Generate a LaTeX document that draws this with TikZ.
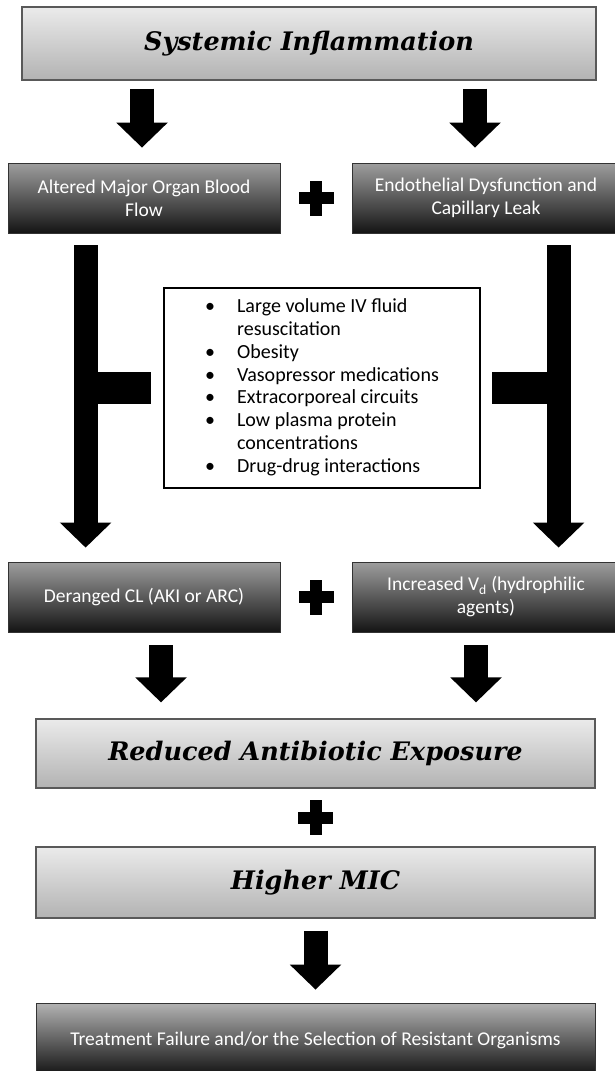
\documentclass[tikz,border=0pt]{standalone}
\usepackage{fontspec}
\setmainfont{Carlito}
\newfontfamily\headfont{DejaVu Serif}
\usetikzlibrary{arrows.meta,calc,positioning}
\newcommand\plusmark[1]{\fill #1 ++(-17.5,-6) rectangle ++(35,12);\fill #1 ++(-6,-17.5) rectangle ++(12,35);}

\begin{document}
\begin{tikzpicture}[x=1pt,y=-1pt,
 lightbox/.style={draw=black!65,line width=1.2pt,top color=black!8,bottom color=black!30,inner sep=0pt,font=\headfont\bfseries\itshape\fontsize{25.5}{30}\selectfont},
 darkbox/.style={draw=black!80,line width=.8pt,top color=black!38,bottom color=black!92,text=white,align=center,inner sep=0pt,font=\fontsize{19.5}{23}\selectfont},
 listbox/.style={draw=black,line width=1.6pt,fill=white,inner sep=0pt,font=\fontsize{20}{22.8}\selectfont},
 bigarrow/.style={line width=24pt,-{Triangle[length=25pt,width=50pt]}},
 tbar/.style={line width=32pt}]
\fill[white] (0,0) rectangle (614,1071);\useasboundingbox (0,0) rectangle (614,1071);
% boxes
\node[lightbox,minimum width=574pt,minimum height=73pt] (sys) at (309,43.5) {Systemic Inflammation};
\node[darkbox,minimum width=272pt,minimum height=70pt] (alt) at (144,198) {Altered Major Organ Blood\\Flow};
\node[darkbox,minimum width=268pt,minimum height=70pt] (endo) at (486,198) {Endothelial Dysfunction and\\Capillary Leak};
\node[listbox,minimum width=316pt,minimum height=200pt] (list) at (322,388) {\begin{tabular}{@{}l@{\hspace{22pt}}l@{}}
 \textbullet & Large volume IV fluid\\ & resuscitation\\ \textbullet & Obesity\\ \textbullet & Vasopressor medications\\
 \textbullet & Extracorporeal circuits\\ \textbullet & Low plasma protein\\ & concentrations\\ \textbullet & Drug-drug interactions\end{tabular}};
\node[darkbox,minimum width=272pt,minimum height=70pt] (cl) at (144,597) {Deranged CL (AKI or ARC)};
\node[darkbox,minimum width=268pt,minimum height=70pt] (vd) at (486,597) {Increased V\textsubscript{d} (hydrophilic\\agents)};
\node[lightbox,minimum width=559pt,minimum height=69pt] (red) at (315.5,753.5) {Reduced Antibiotic Exposure};
\node[lightbox,minimum width=559pt,minimum height=71pt] (mic) at (315.5,882.5) {Higher MIC};
\node[darkbox,minimum width=559pt,minimum height=75pt,top color=black!30,bottom color=black!95] (out) at (315.5,1040.5) {Treatment Failure and/or the Selection of Resistant Organisms};
% plus signs
\coordinate (plusA) at ($(alt.east)!.5!(endo.west)$);\coordinate (plusB) at ($(cl.east)!.5!(vd.west)$);\coordinate (plusC) at ($(red.south)!.5!(mic.north)$);
\plusmark{(plusA)}\plusmark{(plusB)}\plusmark{(plusC)}
% arrows
\draw[bigarrow] ($(sys.south -| alt.north)+(-2,8)$) -- ($(alt.north)+(-2,-15)$);
\draw[bigarrow] ($(sys.south -| endo.north)+(-11,8)$) -- ($(endo.north)+(-11,-15)$);
\coordinate (lshaft) at ($(alt.south west)+(78,12)$);\coordinate (rshaft) at ($(endo.south west)+(207,12)$);
\draw[bigarrow] (lshaft) -- ($(cl.north west)+(78,-14)$);
\draw[bigarrow] (rshaft) -- ($(vd.north west)+(207,-14)$);
\draw[tbar] (lshaft |- list.west) -- ($(list.west)+(-12,0)$);
\draw[tbar] (rshaft |- list.east) -- ($(list.east)+(11,0)$);
\draw[bigarrow] ($(cl.south)+(17,13)$) -- ($(cl.south |- red.north)+(17,-16)$);
\draw[bigarrow] ($(vd.south)+(-10,13)$) -- ($(vd.south |- red.north)+(-10,-16)$);
\draw[bigarrow] ($(mic.south)+(0,12)$) -- ($(out.north)+(0,-13)$);
\end{tikzpicture}
\end{document}
